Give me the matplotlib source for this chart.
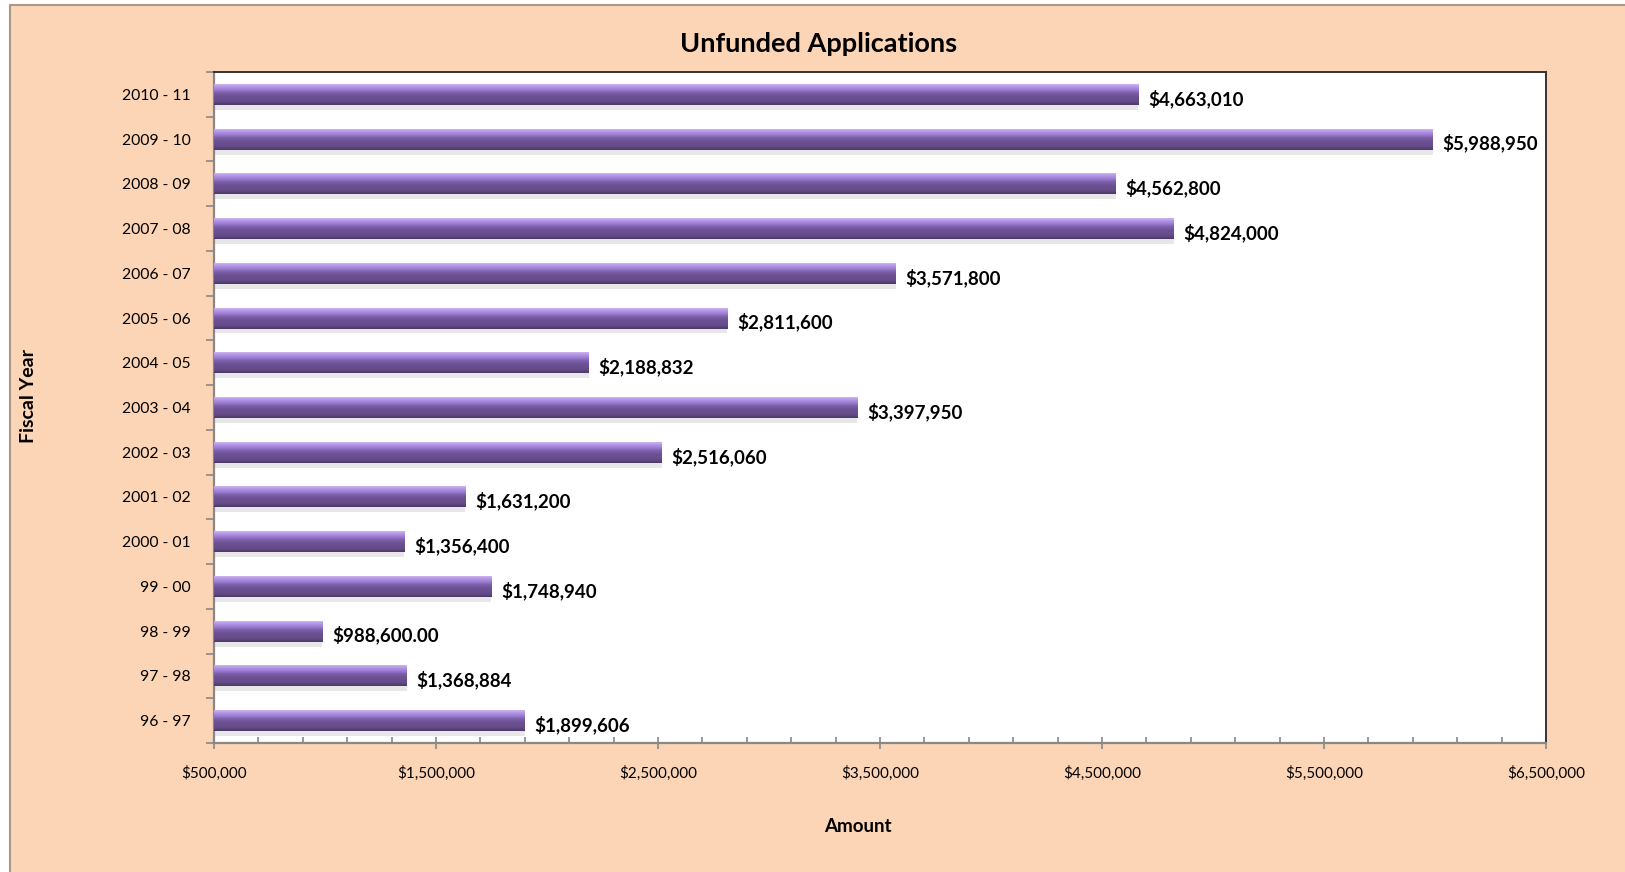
import numpy as np
import matplotlib
matplotlib.use("Agg")
import matplotlib.pyplot as plt
from matplotlib.patches import Rectangle
from matplotlib.colors import LinearSegmentedColormap
from matplotlib.ticker import FixedLocator, FuncFormatter

plt.rcParams['font.family'] = ['Lato', 'DejaVu Sans']

years = ["2010 - 11", "2009 - 10", "2008 - 09", "2007 - 08", "2006 - 07", "2005 - 06",
         "2004 - 05", "2003 - 04", "2002 - 03", "2001 - 02", "2000 - 01", "99 - 00",
         "98 - 99", "97 - 98", "96 - 97"]
amounts = [4663010, 5988950, 4562800, 4824000, 3571800, 2811600,
           2188832, 3397950, 2516060, 1631200, 1356400, 1748940,
           988600, 1368884, 1899606]
value_labels = ["$4,663,010", "$5,988,950", "$4,562,800", "$4,824,000", "$3,571,800",
                "$2,811,600", "$2,188,832", "$3,397,950", "$2,516,060", "$1,631,200",
                "$1,356,400", "$1,748,940", "$988,600.00", "$1,368,884", "$1,899,606"]
x_min, x_max = 500000, 6500000
x_major_step, x_minor_step = 1000000, 200000

W, H = 1625, 872
fig = plt.figure(figsize=(W / 100, H / 100), dpi=100, facecolor='white')
peach = '#FBD5B5'
fig.patches.append(Rectangle((10 / W, -0.01), 1.02, 1 - 5 / H + 0.01,
                             transform=fig.transFigure, facecolor=peach,
                             edgecolor='#A89888', linewidth=1.5, zorder=-5))

ax = fig.add_axes([214 / W, 1 - 743 / H, (1546 - 214) / W, (743 - 72) / H])
ax.set_zorder(2)
ax.set_facecolor('white')

n = len(years)
ypos = np.arange(n)[::-1]  # top row = first item
bar_h = 0.47

cmap = LinearSegmentedColormap.from_list('bar', [
    (0.0, '#D6C2F6'), (0.12, '#BC9EEA'), (0.3, '#9C7DD2'), (0.45, '#7A5EA8'),
    (0.6, '#6C5294'), (0.85, '#644B88'), (1.0, '#4C3A68')])
grad = np.linspace(0, 1, 64).reshape(-1, 1)

# shadows
ax.barh(ypos - bar_h / 2 - 0.04, np.array(amounts) - x_min, height=0.14, left=x_min,
        color='#BDBDBD', alpha=0.35, linewidth=0, zorder=1)

bars = ax.barh(ypos, np.array(amounts) - x_min, height=bar_h, left=x_min,
               color='#6C5294', linewidth=0, zorder=2)
for b in bars:
    x0, y0 = b.get_x(), b.get_y()
    im = ax.imshow(grad, cmap=cmap, aspect='auto', zorder=3,
                   extent=[x0, x0 + b.get_width(), y0, y0 + b.get_height()],
                   origin='upper', interpolation='bilinear')
    im.set_clip_path(b)
ax.set_xlim(x_min, x_max)
ax.set_ylim(-0.5, n - 0.5)

for y, v, lab in zip(ypos, amounts, value_labels):
    ax.annotate(lab, (v, y), xytext=(7, -3), textcoords='offset points',
                ha='left', va='center', fontsize=13.5, fontweight='bold',
                color='black', zorder=5)

# ticks
ax.xaxis.set_major_locator(FixedLocator(np.arange(x_min, x_max + 1, x_major_step)))
ax.xaxis.set_minor_locator(FixedLocator(np.arange(x_min, x_max + 1, x_minor_step)))
ax.xaxis.set_major_formatter(FuncFormatter(lambda v, p: "${:,.0f}".format(v)))
ax.tick_params(axis='x', which='major', direction='inout', length=9, width=1.2,
               color='#888888', labelsize=11, pad=12)
ax.tick_params(axis='x', which='minor', direction='in', length=4, width=1.2, color='#888888')

ax.set_yticks(ypos)
ax.set_yticklabels(years)
ax.yaxis.set_minor_locator(FixedLocator(np.arange(-0.5, n, 1.0)))
ax.tick_params(axis='y', which='major', length=0, labelsize=11.3, pad=17)
ax.tick_params(axis='y', which='minor', direction='out', length=6, width=1.2, color='#888888')

for s in ['left', 'bottom']:
    ax.spines[s].set_color('#888888')
    ax.spines[s].set_linewidth(1.6)
for s in ['top', 'right']:
    ax.spines[s].set_color('#333333')
    ax.spines[s].set_linewidth(1.4)

fig.text(819 / W, 1 - 44 / H, "Unfunded Applications", ha='center', va='center',
         fontsize=19.5, fontweight='bold')
fig.text(28 / W, 1 - 396 / H, "Fiscal Year", ha='center', va='center', rotation=90,
         fontsize=14, fontweight='bold')
fig.text(858 / W, 1 - 826 / H, "Amount", ha='center', va='center',
         fontsize=13.5, fontweight='bold')

fig.savefig('out.png', dpi=100, facecolor=fig.get_facecolor())
